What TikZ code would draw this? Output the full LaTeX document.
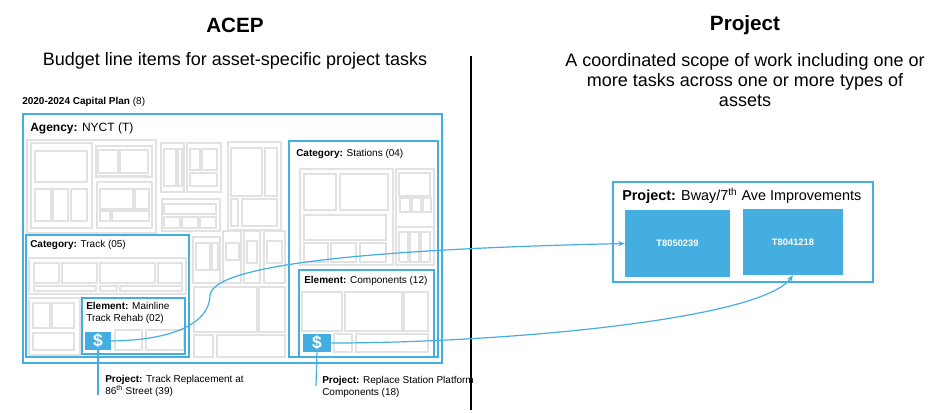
\documentclass[tikz,border=0pt]{standalone}
\usepackage{fontspec}
\setmainfont{Liberation Sans}
\usetikzlibrary{positioning,arrows.meta}
\definecolor{acblue}{HTML}{45AEE0}
\definecolor{cellgray}{HTML}{E2E2E2}
\tikzset{
  cell/.style={draw=cellgray,line width=0.9pt},
  grp/.style={draw=acblue,line width=1pt},
  lbl/.style={anchor=west,inner sep=0pt,font=\fontsize{7.5}{9}\selectfont},
  task/.style={fill=acblue,text=white,font=\bfseries\fontsize{7}{8}\selectfont,inner sep=0pt},
  link/.style={acblue,line width=0.9pt},
}
\begin{document}
\begin{tikzpicture}[x=0.75pt,y=-0.75pt]
       \useasboundingbox (0,0) rectangle (940,412);
       % headings
       \node[font=\bfseries\fontsize{15.5}{18}\selectfont] (acep) at (235,25) {ACEP};
       \node[font=\fontsize{13.5}{16}\selectfont] at (235,61) {Budget line items for asset-specific project tasks};
       \node[font=\bfseries\fontsize{15.5}{18}\selectfont] (proj) at (745,25) {Project};
       \node[font=\fontsize{13.5}{14.8}\selectfont,align=center] at (745,80) {A coordinated scope of work including one or\\more tasks across one or more types of\\assets};
       \draw[line width=0.8pt] (471,56) -- (471,410);
       % treemap cells
       \foreach \a/\b/\c/\d in {27/140/156/233, 31/143/92/228, 35/151/87/182, 35/189/51/221, 53/189/68/221, 71/189/87/221,
           96/146/152/177, 98/150/118/173, 120/150/148/173, 98/176/148/177, 97/182/152/228, 100/189/133/209, 135/189/149/209,
           100/211/110/221, 112/211/149/221,
           161/143/184/192, 164/149/176/186, 178/149/182/186, 187/143/221/192, 190/149/200/170, 202/149/217/170, 190/173/217/186,
           162/199/220/231, 164/204/216/214, 164/217/180/228, 182/217/198/228, 200/217/216/228,
           228/142/281/230, 231/148/262/196, 265/148/277/196, 231/199/238/226, 242/199/277/226,
           193/237/220/283, 196/243/210/270, 212/243/218/270, 223/231/241/283, 226/243/239/260, 244/231/260/283, 247/241/257/263,
           264/231/285/283, 267/241/282/263,
           194/287/257/332, 259/287/285/332, 194/335/213/357, 217/335/285/357,
           29/258/186/294, 34/263/59/283, 62/263/97/283, 100/263/155/283, 158/263/182/283, 34/286/96/291, 100/286/117/291, 120/286/182/291,
           29/298/80/355, 33/303/50/328, 52/303/74/328, 33/333/74/350,
           300/169/393/265, 304/174/336/210, 340/174/388/210, 304/215/386/240, 304/243/328/262, 331/243/356/262, 360/243/386/262,
           396/169/434/265, 399/173/430/196, 400/198/410/212, 412/198/421/212, 423/198/431/212, 396/227/434/265, 399/232/408/262, 410/232/419/262, 421/232/430/262,
           302/292/342/331, 345/292/402/331, 404/292/428/331, 334/334/352/352, 356/334/428/352,
           115/330/142/350, 146/330/184/350}
         {\draw[cell] (\a,\b) rectangle (\c,\d);}
       % blue groupings
       \node[lbl] at (22,102) {\textbf{2020-2024 Capital Plan} (8)};
       \draw[grp] (23,114) rectangle (442,363);
       \node[lbl,font=\fontsize{9}{10}\selectfont] at (30,128) {\textbf{Agency:} NYCT (T)};
       \draw[grp] (289,141) rectangle (438,357);
       \node[lbl] at (296,154) {\textbf{Category:} Stations (04)};
       \draw[grp] (26,235) rectangle (189,357);
       \node[lbl] at (30,245) {\textbf{Category:} Track (05)};
       \draw[grp] (82,298) rectangle (185,354);
       \node[lbl,align=left] at (86,313) {\textbf{Element:} Mainline\\Track Rehab (02)};
       \draw[grp] (299,270) rectangle (434,357);
       \node[lbl] at (304,281) {\textbf{Element:} Components (12)};
       % budget line items
       \node[task,font=\bfseries\fontsize{13}{14}\selectfont,minimum width=19pt,minimum height=13pt] (usd1) at (98,341) {\$};
       \node[task,font=\bfseries\fontsize{13}{14}\selectfont,minimum width=21pt,minimum height=13.5pt] (usd2) at (317,343) {\$};
       \coordinate (p1) at (98,395);
       \coordinate (p2) at (316,386);
       \draw[link] (usd1.south) -- (p1);
       \draw[link] (usd2.south) -- (p2);
       \node[lbl,align=left] at (105,386) {\textbf{Project:} Track Replacement at\\86\textsuperscript{th} Street (39)};
       \node[lbl,align=left] at (322,387) {\textbf{Project:} Replace Station Platform\\Components (18)};
       % project box
       \draw[grp] (613,182) rectangle (873,282);
       \node[lbl,font=\fontsize{10.8}{12}\selectfont] at (622,196) {\textbf{Project:} Bway/7\textsuperscript{th} Ave Improvements};
       \node[task,minimum width=78.75pt,minimum height=50pt] (t1) at (677.5,243.5) {T8050239};
       \node[task,minimum width=75pt,minimum height=49.5pt] (t2) at (793,242) {T8041218};
       % links
       \draw[link,-{Stealth[length=5pt,width=4pt]}] (usd1.east) .. controls (180,340) and (210,320) .. (210,295)
           .. controls (215,260) and (420,248) .. (t1.west);
       \draw[link,-{Stealth[length=5pt,width=4pt]}] (usd2.east) .. controls (500,343) and (760,320) .. (t2.south);
\end{tikzpicture}
\end{document}
